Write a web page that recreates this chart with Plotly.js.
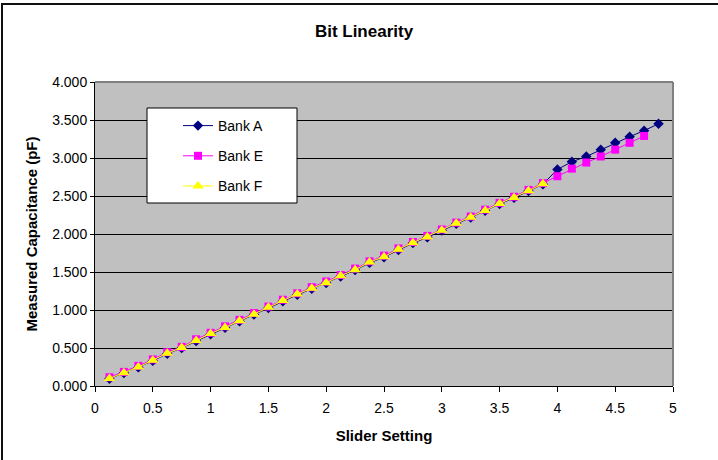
<!DOCTYPE html>
<html>
<head>
<meta charset="utf-8">
<script src="https://cdn.plot.ly/plotly-3.0.1.min.js"></script>
<style>
  html, body { margin: 0; padding: 0; background: #fff; }
  #wrap { position: relative; width: 718px; height: 460px; }
  #chart { width: 718px; height: 460px; }
  #frame { position: absolute; left: 1px; top: 3px; width: 720px; height: 460px;
           border-left: 2px solid #111; border-top: 2px solid #111; pointer-events: none; }
</style>
</head>
<body>
<div id="wrap">
  <div id="chart"></div>
  <div id="frame"></div>
</div>
<script>
// Slider settings (x) and measured capacitance in pF (y) for each bank
const sliderA = [0.125,0.25,0.375,0.5,0.625,0.75,0.875,1,1.125,1.25,1.375,1.5,1.625,1.75,1.875,2,
  2.125,2.25,2.375,2.5,2.625,2.75,2.875,3,3.125,3.25,3.375,3.5,3.625,3.75,3.875,
  4,4.125,4.25,4.375,4.5,4.625,4.75,4.875];
const bankA = [0.095,0.170,0.245,0.330,0.425,0.500,0.590,0.680,0.765,0.850,0.940,1.025,1.115,1.200,1.280,1.355,
  1.440,1.525,1.620,1.695,1.790,1.880,1.955,2.045,2.135,2.215,2.305,2.395,2.475,2.565,2.655,
  2.850,2.950,3.020,3.110,3.200,3.280,3.360,3.450];

const sliderE = [0.125,0.25,0.375,0.5,0.625,0.75,0.875,1,1.125,1.25,1.375,1.5,1.625,1.75,1.875,2,
  2.125,2.25,2.375,2.5,2.625,2.75,2.875,3,3.125,3.25,3.375,3.5,3.625,3.75,3.875,
  4,4.125,4.25,4.375,4.5,4.625,4.75];
const bankE = [0.115,0.185,0.265,0.350,0.445,0.515,0.615,0.700,0.785,0.870,0.960,1.045,1.135,1.220,1.300,1.375,
  1.460,1.545,1.640,1.715,1.810,1.895,1.975,2.060,2.150,2.230,2.320,2.410,2.490,2.580,2.670,
  2.760,2.860,2.940,3.020,3.110,3.200,3.290];

const sliderF = [0.125,0.25,0.375,0.5,0.625,0.75,0.875,1,1.125,1.25,1.375,1.5,1.625,1.75,1.875,2,
  2.125,2.25,2.375,2.5,2.625,2.75,2.875,3,3.125,3.25,3.375,3.5,3.625,3.75,3.875];
const bankF = [0.100,0.175,0.250,0.340,0.430,0.505,0.600,0.690,0.770,0.860,0.945,1.035,1.125,1.210,1.285,1.360,
  1.450,1.530,1.630,1.700,1.800,1.885,1.960,2.050,2.140,2.220,2.310,2.400,2.480,2.570,2.660];

const FONT = '"Liberation Sans", Arial, sans-serif';

const traces = [
  { x: sliderA, y: bankA, name: 'Bank A', legendgroup: 'a', mode: 'lines+markers',
    line: { color: '#000080', width: 1 },
    marker: { symbol: 'diamond', size: 8, color: '#000080' } },
  { x: sliderE, y: bankE, name: 'Bank E', legendgroup: 'e', mode: 'lines+markers',
    line: { color: '#FF00FF', width: 1 },
    marker: { symbol: 'square', size: 8, color: '#FF00FF' } },
  { x: sliderF, y: bankF, name: 'Bank F', legendgroup: 'f', mode: 'lines+markers',
    line: { color: '#FFFF00', width: 1 },
    marker: { symbol: 'triangle-up', size: 10, color: '#FFFF00' } }
];

const layout = {
  width: 718, height: 460,
  margin: { l: 95, r: 45, t: 82, b: 74, autoexpand: false },
  paper_bgcolor: '#ffffff',
  plot_bgcolor: '#C0C0C0',
  font: { family: FONT, color: '#000', size: 14 },
  title: { text: '<b>Bit Linearity</b>', font: { family: FONT, size: 17, color: '#000' },
           x: 364 / 718, xref: 'container', xanchor: 'center',
           y: 1 - 31 / 460, yref: 'container', yanchor: 'middle' },
  xaxis: {
    range: [0, 5], dtick: 0.5, tick0: 0,
    showgrid: false, zeroline: false,
    showline: true, linecolor: '#000', linewidth: 1,
    ticks: 'outside', ticklen: 5, tickcolor: '#000',
    ticklabelstandoff: 4,
    tickfont: { family: FONT, size: 14, color: '#000' },
    title: { text: '<b>Slider Setting</b>', font: { family: FONT, size: 15, color: '#000' }, standoff: 15 },
    automargin: false, fixedrange: true
  },
  yaxis: {
    range: [0, 4], dtick: 0.5, tick0: 0, tickformat: '.3f',
    showgrid: true, gridcolor: '#000', gridwidth: 1, zeroline: false,
    showline: true, linecolor: '#000', linewidth: 1,
    ticks: 'outside', ticklen: 4, tickcolor: '#000',
    tickfont: { family: FONT, size: 14, color: '#000' },
    title: { text: '<b>Measured Capacitance (pF)</b>', font: { family: FONT, size: 15, color: '#000' }, standoff: 10 },
    automargin: false, fixedrange: true
  },
  showlegend: true,
  legend: {
    x: (178 - 95) / 578, xanchor: 'left',
    y: 1 - (110 - 82) / 304, yanchor: 'top',
    bgcolor: 'rgba(0,0,0,0)', borderwidth: 0,
    tracegroupgap: 9,
    font: { family: FONT, size: 14, color: '#000' }
  },
  shapes: [
    // legend box
    { type: 'rect', xref: 'paper', yref: 'paper', layer: 'above',
      x0: (147 - 95) / 578, x1: (297 - 95) / 578,
      y0: 1 - (203 - 82) / 304, y1: 1 - (108 - 82) / 304,
      fillcolor: '#ffffff', line: { color: '#000', width: 1 } },
    // plot-area frame: top and right edges
    { type: 'line', xref: 'paper', yref: 'paper', layer: 'above',
      x0: 0, x1: 1, y0: 1, y1: 1, line: { color: '#808080', width: 2 } },
    { type: 'line', xref: 'paper', yref: 'paper', layer: 'above',
      x0: 1, x1: 1, y0: 0, y1: 1, line: { color: '#808080', width: 2 } }
  ]
};

Plotly.newPlot('chart', traces, layout, { displayModeBar: false, staticPlot: true });
</script>
</body>
</html>
